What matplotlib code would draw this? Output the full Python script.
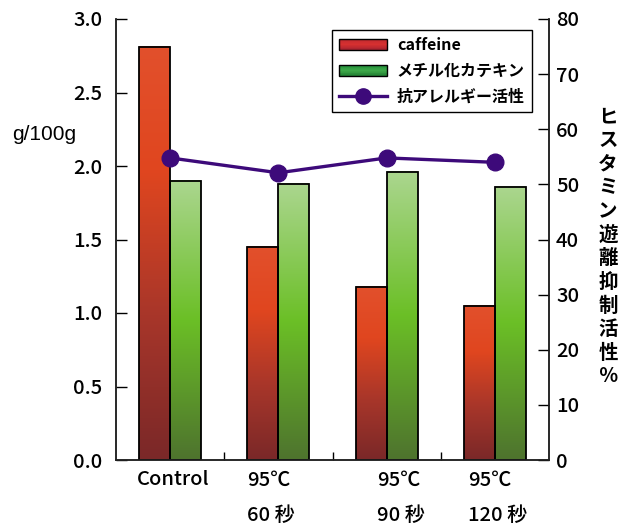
import numpy as np
import matplotlib
matplotlib.use("Agg")
import matplotlib.pyplot as plt
from matplotlib.colors import LinearSegmentedColormap
from matplotlib.patches import Rectangle
from matplotlib.lines import Line2D
from matplotlib.legend_handler import HandlerBase
from matplotlib.transforms import ScaledTranslation

# ---- data ----
categories = ["Control", "95℃\n60 秒", "95℃\n90 秒", "95℃\n120 秒"]
caffeine = [2.81, 1.45, 1.18, 1.05]          # g/100g
methyl_catechin = [1.90, 1.88, 1.96, 1.86]   # g/100g
anti_allergy = [54.8, 52.1, 54.8, 54.0]      # %
left_ticks = [0.0, 0.5, 1.0, 1.5, 2.0, 2.5, 3.0]
right_ticks = [0, 10, 20, 30, 40, 50, 60, 70, 80]
series_names = ["caffeine", "メチル化カテキン", "抗アレルギー活性"]
right_label = "ヒスタミン遊離抑制活性％"
left_label = "g/100g"

JFONT = ["Noto Sans CJK JP", "Liberation Sans", "DejaVu Sans"]
plt.rcParams["font.family"] = JFONT

red_cmap = LinearSegmentedColormap.from_list(
    "red_bar", [(0.0, "#7A2828"), (0.35, "#A8362A"), (0.7, "#E0461F"), (1.0, "#E2502C")])
green_cmap = LinearSegmentedColormap.from_list(
    "green_bar", [(0.0, "#4E732E"), (0.5, "#6BBF26"), (1.0, "#ABD68F")])
red_legend = LinearSegmentedColormap.from_list("red_leg", ["#9A2030", "#D83030", "#C02A30"])
green_legend = LinearSegmentedColormap.from_list("green_leg", ["#1E7A30", "#3FAA4A", "#208A38"])

W, H = 621, 525
fig = plt.figure(figsize=(W / 100, H / 100), dpi=100)
ax = fig.add_axes([116 / W, 1 - 460 / H, 433 / W, 441 / H])
ax2 = ax.twinx()

x = np.arange(len(categories))
bw = 0.286

bars_red = ax.bar(x - bw / 2, caffeine, bw, facecolor="none", edgecolor="black", lw=1.3, zorder=3)
bars_green = ax.bar(x + bw / 2, methyl_catechin, bw, facecolor="none", edgecolor="black", lw=1.3, zorder=3)

grad = np.linspace(0, 1, 256).reshape(-1, 1)
for bars, cmap in ((bars_red, red_cmap), (bars_green, green_cmap)):
    for b in bars:
        x0, y0, w, h = b.get_x(), b.get_y(), b.get_width(), b.get_height()
        ax.imshow(grad, extent=(x0, x0 + w, y0, y0 + h), origin="lower",
                  cmap=cmap, aspect="auto", zorder=2, interpolation="bilinear")

tick_font = {"family": JFONT, "weight": "medium", "size": 14.5}

ax.set_xlim(-0.5, 3.5)
ax.set_ylim(0, 3.0)
ax.set_yticks(left_ticks)
ax.set_yticklabels([f"{v:.1f}" for v in left_ticks], fontdict=tick_font)
ax.set_xticks(x)
ax.set_xticklabels(categories, fontdict=tick_font, linespacing=2.1, ha="left", va="top")
ax.set_xticks([0.5, 1.5, 2.5], minor=True)
ax.tick_params(axis="x", which="major", length=0, pad=7.5)
ax.tick_params(axis="x", which="minor", direction="in", length=6, width=1)
ax.tick_params(axis="y", direction="in", length=8, width=1, pad=10)
for lbl, dx in zip(ax.get_xticklabels(), [-33, -31, -10, -27]):
    lbl.set_multialignment("left")
    lbl.set_transform(lbl.get_transform() + ScaledTranslation(dx / 100, 0, fig.dpi_scale_trans))

line, = ax2.plot(x, anti_allergy, color="#3D0A7A", lw=2.4, marker="o", ms=12, zorder=5)
ax2.set_ylim(0, 80)
ax2.set_yticks(right_ticks)
ax2.set_yticklabels([str(v) for v in right_ticks], fontdict=tick_font)
ax2.tick_params(axis="y", direction="in", length=8, width=1, pad=5)

for a in (ax, ax2):
    a.spines["top"].set_visible(False)
    for s in a.spines.values():
        s.set_linewidth(1.1)
        s.set_color("#222222")

# legend with gradient swatches
class GradientHandler(HandlerBase):
    def __init__(self, cmap):
        super().__init__()
        self.cmap = cmap

    def create_artists(self, legend, orig_handle, xdescent, ydescent, width, height, fontsize, trans):
        n = 16
        arts = []
        for i in range(n):
            arts.append(Rectangle((-xdescent, -ydescent + height * i / n), width, height / n,
                                  facecolor=self.cmap((i + 0.5) / n), edgecolor="none", transform=trans))
        arts.append(Rectangle((-xdescent, -ydescent), width, height, facecolor="none",
                              edgecolor="black", lw=1.0, transform=trans))
        return arts

h_red = Rectangle((0, 0), 1, 1)
h_green = Rectangle((0, 0), 1, 1)
h_line = Line2D([], [], color="#3D0A7A", lw=2.4, marker="o", ms=11)
leg = ax2.legend([h_red, h_green, h_line], series_names,
                 handler_map={h_red: GradientHandler(red_legend), h_green: GradientHandler(green_legend)},
                 loc="upper right", bbox_to_anchor=(532 / W, 1 - 30 / H), bbox_transform=fig.transFigure,
                 prop={"family": JFONT, "weight": "bold", "size": 11.5},
                 frameon=True, fancybox=False, shadow=False, framealpha=1, edgecolor="black",
                 handlelength=3.0, handleheight=0.75, handletextpad=0.6, labelspacing=0.62,
                 borderpad=0.45, borderaxespad=0)
leg.get_frame().set_linewidth(1.0)

fig.text(44 / W, 1 - 134 / H, left_label, fontsize=15, ha="center", va="center",
         family=["Liberation Sans", "DejaVu Sans"])
fig.text(608 / W, 1 - 247 / H, "\n".join(right_label), fontsize=14, fontweight="bold",
         family=JFONT, ha="center", va="center", linespacing=1.3)

fig.savefig("out.png", dpi=100)
